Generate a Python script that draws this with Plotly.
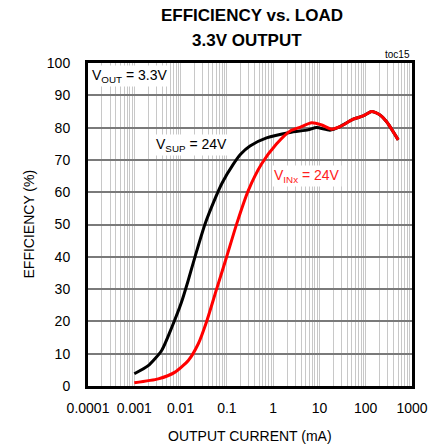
import plotly.graph_objects as go

# Data
sup_current = [0.001, 0.002, 0.0039, 0.0066, 0.0105, 0.0145, 0.0205, 0.0335, 0.052, 0.08, 0.137, 0.2, 0.316, 0.72, 2.3, 5.7, 8.7, 16.9, 27.7, 53.7, 88, 134, 200, 283, 503]
sup_eff = [3.8, 6.3, 11.0, 18.5, 26.0, 32.5, 40.0, 50.0, 57.0, 63.0, 68.6, 71.8, 74.3, 76.8, 78.5, 79.3, 80.0, 79.2, 80.3, 82.6, 83.6, 85.0, 84.0, 81.8, 76.2]

inx_current = [0.001, 0.0033, 0.0076, 0.0147, 0.024, 0.0366, 0.06, 0.099, 0.163, 0.29, 0.565, 1.19, 2.3, 3.8, 6.8, 11.2, 18.3, 27.7, 53.7, 88, 134, 200, 283, 503]
inx_eff = [1.0, 2.2, 4.3, 7.9, 13.0, 20.0, 30.0, 40.0, 50.2, 60.5, 68.8, 75.0, 78.9, 80.1, 81.5, 80.8, 79.5, 80.3, 82.6, 83.6, 85.0, 84.0, 81.8, 76.2]

x_tickvals = [0.0001, 0.001, 0.01, 0.1, 1, 10, 100, 1000]
x_ticktext = ["0.0001", "0.001", "0.01", "0.1", "1", "10", "100", "1000"]
y_tickvals = [0, 10, 20, 30, 40, 50, 60, 70, 80, 90, 100]

FONT = "Liberation Sans, Arial, sans-serif"

fig = go.Figure()
fig.add_trace(go.Scatter(x=sup_current, y=sup_eff, mode="lines",
                         line=dict(color="black", width=3, shape="spline", smoothing=0.6),
                         hoverinfo="skip", showlegend=False))
fig.add_trace(go.Scatter(x=inx_current, y=inx_eff, mode="lines",
                         line=dict(color="#ff0000", width=3, shape="spline", smoothing=0.6),
                         hoverinfo="skip", showlegend=False))

fig.update_layout(
    width=440, height=447,
    margin=dict(l=88, r=28, t=63, b=61, autoexpand=False),
    paper_bgcolor="white", plot_bgcolor="white",
    font=dict(family=FONT, size=14, color="black"),
    xaxis=dict(type="log", range=[-4, 3], tickvals=x_tickvals, ticktext=x_ticktext,
               showgrid=True, gridcolor="#c8c8c8", gridwidth=1,
               minor=dict(dtick="D1", showgrid=True, gridcolor="#c8c8c8", gridwidth=1, ticks=""),
               showline=True, linecolor="black", linewidth=3, mirror=True,
               ticks="", zeroline=False, automargin=False, ticklabelstandoff=7,
               tickfont=dict(size=14)),
    yaxis=dict(range=[0, 100], tickvals=y_tickvals,
               showgrid=True, gridcolor="#7a7a7a", gridwidth=1.5,
               showline=True, linecolor="black", linewidth=3, mirror=True,
               ticks="", zeroline=False, automargin=False, ticklabelstandoff=12,
               tickfont=dict(size=14)),
)

# Title (two lines)
fig.add_annotation(xref="paper", yref="paper", x=0.506, y=1, yanchor="middle",
                   yshift=63 - 15, showarrow=False,
                   text="<b>EFFICIENCY vs. LOAD</b>", font=dict(size=17))
fig.add_annotation(xref="paper", yref="paper", x=0.491, y=1, yanchor="middle",
                   yshift=63 - 40, showarrow=False,
                   text="<b>3.3V OUTPUT</b>", font=dict(size=17))
# Axis titles
fig.add_annotation(xref="paper", yref="paper", x=0.5, y=0, yanchor="middle",
                   yshift=-(436 - 386), showarrow=False,
                   text="OUTPUT CURRENT (mA)", font=dict(size=14))
fig.add_annotation(xref="paper", yref="paper", x=0, y=0.5, xanchor="center",
                   xshift=-(88 - 28), showarrow=False, textangle=-90,
                   text="EFFICIENCY (%)", font=dict(size=14))

fig.add_annotation(xref="paper", yref="paper", x=1.0, y=1.0, xanchor="right", yanchor="bottom",
                   text="toc15", showarrow=False, font=dict(size=10), yshift=1)
fig.add_annotation(xref="paper", yref="paper", x=0.005, y=0.995, xanchor="left", yanchor="top",
                   text="V<sub>OUT</sub> = 3.3V", showarrow=False, bgcolor="white",
                   font=dict(size=14), borderpad=1)
fig.add_annotation(xref="paper", yref="paper", x=0.205, y=0.745, xanchor="left", yanchor="middle",
                   text="V<sub>SUP</sub> = 24V", showarrow=False, bgcolor="white",
                   font=dict(size=14), borderpad=1)
fig.add_annotation(xref="paper", yref="paper", x=0.568, y=0.649, xanchor="left", yanchor="middle",
                   text="V<sub>INx</sub> = 24V", showarrow=False, bgcolor="white",
                   font=dict(size=14, color="#ff2020"), borderpad=1)

fig.write_html("out.html", config={"displayModeBar": False},
               post_script="document.body.style.margin='0px';")
